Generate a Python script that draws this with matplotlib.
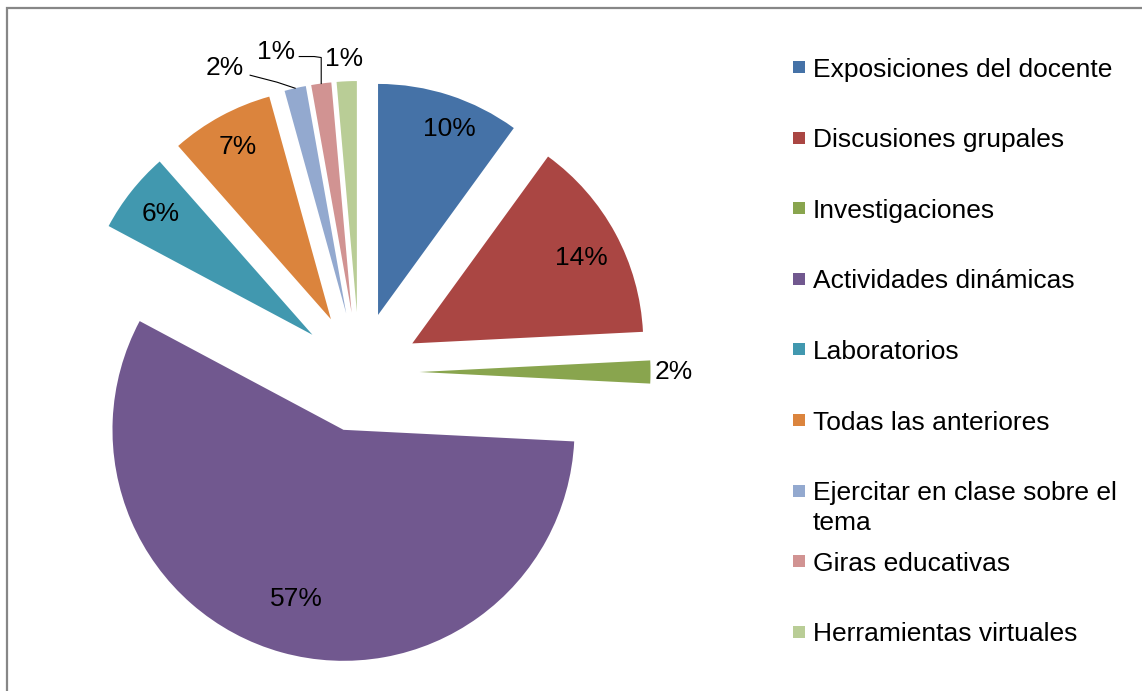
import numpy as np
import matplotlib
matplotlib.use('Agg')
import matplotlib.pyplot as plt
from matplotlib.patches import Rectangle

plt.rcParams['font.family'] = ['Liberation Sans', 'DejaVu Sans']

# data
categories = [
    'Exposiciones del docente',
    'Discusiones grupales',
    'Investigaciones',
    'Actividades dinámicas',
    'Laboratorios',
    'Todas las anteriores',
    'Ejercitar en clase sobre el\ntema',
    'Giras educativas',
    'Herramientas virtuales',
]
values = [10.0, 14.2, 1.6, 57.0, 5.7, 7.2, 1.5, 1.4, 1.4]
colors = ['#4572A7', '#AA4643', '#89A54E', '#71588F', '#4198AF',
          '#DB843D', '#93A9CF', '#D19392', '#B9CD96']

W, H = 1142, 691
CX, CY, R, EXPL = 359.5, H - 372, 231, 60
FS = 19

fig = plt.figure(figsize=(W / 100, H / 100), dpi=100)
ax = fig.add_axes([0, 0, 1, 1])

wedges, _ = ax.pie(values, colors=colors, startangle=90, counterclock=False,
                   center=(CX, CY), radius=R, explode=[EXPL] * len(values),
                   wedgeprops=dict(linewidth=0), frame=False)

ax.set_xlim(0, W)
ax.set_ylim(0, H)
ax.set_aspect('equal')
ax.axis('off')

# label placement: inside labels use radial factor (+ angle nudge in deg),
# small slices use offsets from the outer arc
inside = {0: (0.86, -3), 1: (0.82, -1.5), 2: (1.10, 0), 3: (0.76, 0),
          4: (0.84, 0), 5: (0.85, 0)}
outside = {6: (-70, 20, [(-18, 6), (-45, 13)]),
           7: (-45, 32, [(0, 26), (-7, 27), (-22, 27)]),
           8: (-3, 22, None)}

for i, (w, v) in enumerate(zip(wedges, values)):
    txt = f'{int(np.floor(v + 0.5))}%'
    x0, y0 = w.center
    if i in inside:
        f, nudge = inside[i]
        tm = np.deg2rad((w.theta1 + w.theta2) / 2 + nudge)
        ax.text(x0 + f * R * np.cos(tm), y0 + f * R * np.sin(tm), txt,
                ha='center', va='center', fontsize=FS, color='black')
    else:
        tm = np.deg2rad((w.theta1 + w.theta2) / 2)
        ox, oy = x0 + R * np.cos(tm), y0 + R * np.sin(tm)
        dx, dy, elbow = outside[i]
        ax.text(ox + dx, oy + dy, txt, ha='center', va='center', fontsize=FS,
                color='black')
        if elbow:
            px = [ox] + [ox + ex for ex, ey in elbow]
            py = [oy] + [oy + ey for ex, ey in elbow]
            ax.plot(px, py, color='black', lw=0.8)

# legend drawn by hand
top, step, gap = 67, 70.6, 30
for i, (lab, c) in enumerate(zip(categories, colors)):
    yc = H - (top + i * step)
    ax.add_patch(Rectangle((793, yc - 6), 12, 12, facecolor=c, edgecolor='none'))
    for k, line in enumerate(lab.split('\n')):
        ax.text(813, yc - 9.5 - k * gap, line, ha='left', va='baseline',
                fontsize=FS, color='black')

# outer frame
ax.add_patch(Rectangle((7, -20), W + 40, H - 8 + 20, fill=False,
                       edgecolor='#878787', linewidth=1.6))

fig.savefig('out.png', dpi=100)
